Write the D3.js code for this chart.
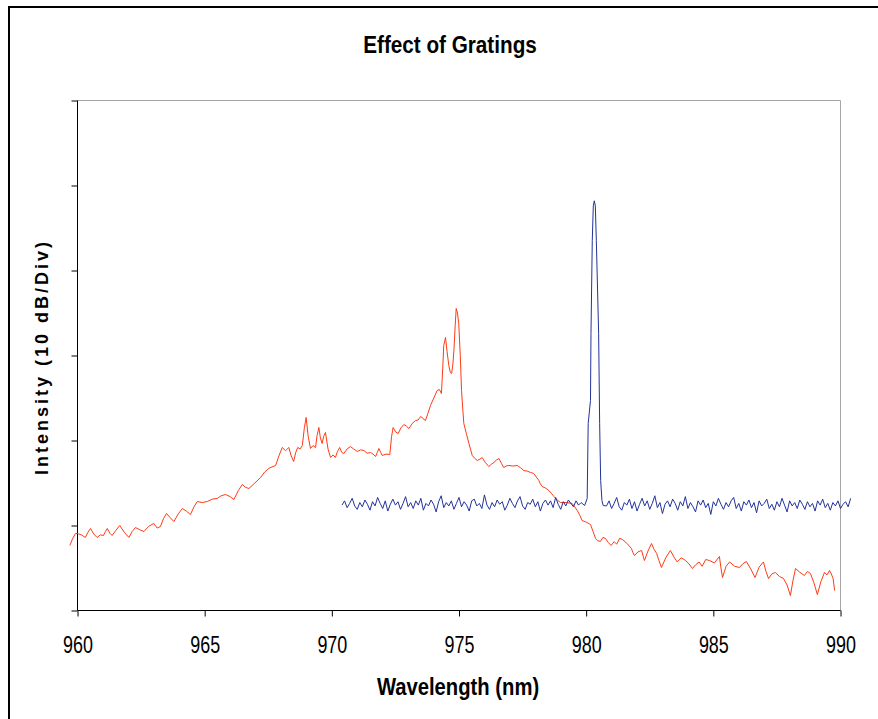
<!DOCTYPE html>
<html>
<head>
<meta charset="utf-8">
<script src="https://cdn.jsdelivr.net/npm/d3@7"></script>
<style>
  html, body { margin: 0; padding: 0; background: #fff; }
  svg { display: block; }
</style>
</head>
<body>
<svg id="chart" width="878" height="719"></svg>
<script>
// ---- data (wavelength in nm, intensity in relative dB; 10 dB per division) ----
const xTicks = [960, 965, 970, 975, 980, 985, 990];
const yTicks = [0, 10, 20, 30, 40, 50, 60];

// broadband emission without grating (red)
const redWl = [
  959.70, 959.80, 959.92, 959.99, 960.15, 960.31, 960.41, 960.51, 960.64, 960.77,
  960.90, 961.02, 961.10, 961.17, 961.27, 961.36, 961.50, 961.66, 961.84, 962.02,
  962.15, 962.28, 962.45, 962.61, 962.80, 963.00, 963.13, 963.26, 963.38, 963.50,
  963.65, 963.79, 963.95, 964.12, 964.28, 964.44, 964.58, 964.71, 964.90, 965.10,
  965.30, 965.49, 965.65, 965.82, 966.00, 966.15, 966.32, 966.48, 966.60, 966.74,
  966.97, 967.20, 967.36, 967.52, 967.65, 967.79, 967.92, 968.05, 968.18, 968.31,
  968.40, 968.50, 968.58, 968.66, 968.75, 968.84, 968.92, 968.99, 969.07, 969.16,
  969.26, 969.36, 969.42, 969.49, 969.55, 969.62, 969.68, 969.75, 969.85, 969.95,
  970.05, 970.14, 970.22, 970.31, 970.39, 970.47, 970.60, 970.73, 970.86, 971.00,
  971.13, 971.26, 971.39, 971.52, 971.62, 971.72, 971.79, 971.85, 971.92, 971.98,
  972.13, 972.28, 972.35, 972.41, 972.51, 972.61, 972.72, 972.83, 972.93, 973.03,
  973.16, 973.29, 973.39, 973.49, 973.58, 973.68, 973.78, 973.88, 974.01, 974.14,
  974.23, 974.31, 974.36, 974.40, 974.47, 974.53, 974.60, 974.66, 974.71, 974.76,
  974.80, 974.85, 974.89, 974.94, 974.99, 975.05, 975.10, 975.15, 975.19, 975.29,
  975.39, 975.46, 975.52, 975.62, 975.72, 975.82, 975.91, 976.04, 976.17, 976.27,
  976.37, 976.47, 976.57, 976.67, 976.76, 976.86, 976.96, 977.12, 977.29, 977.42,
  977.55, 977.68, 977.81, 977.94, 978.04, 978.14, 978.20, 978.27, 978.40, 978.53,
  978.63, 978.73, 978.86, 978.99, 979.22, 979.45, 979.55, 979.65, 979.75, 979.84,
  980.00, 980.17, 980.27, 980.37, 980.46, 980.56, 980.66, 980.76, 980.87, 980.98,
  981.10, 981.20, 981.32, 981.43, 981.60, 981.78, 981.84, 981.90, 982.04, 982.18,
  982.24, 982.29, 982.43, 982.57, 982.67, 982.77, 982.86, 982.96, 983.13, 983.31,
  983.45, 983.58, 983.74, 983.91, 984.04, 984.18, 984.31, 984.44, 984.56, 984.70,
  984.85, 985.04, 985.24, 985.30, 985.36, 985.50, 985.64, 985.84, 986.03, 986.16,
  986.30, 986.47, 986.64, 986.80, 986.97, 987.07, 987.17, 987.30, 987.44, 987.60,
  987.76, 987.90, 988.03, 988.13, 988.23, 988.40, 988.58, 988.70, 988.82, 988.95,
  989.09, 989.23, 989.37, 989.47, 989.57, 989.64, 989.71, 989.77];
const redDb = [
  7.65, 8.4, 9.06, 9.06, 8.9, 8.59, 9.2, 9.65, 9.0, 8.59,
  8.9, 8.82, 9.3, 9.65, 9.1, 8.82, 9.4, 10.0, 9.2, 8.59,
  9.3, 9.76, 9.5, 9.29, 9.9, 10.24, 9.7, 9.88, 10.8, 11.41,
  10.9, 10.47, 11.3, 12.0, 11.7, 11.29, 12.2, 12.82, 12.7, 12.82,
  13.1, 13.18, 13.5, 13.65, 13.4, 13.06, 14.1, 14.82, 14.5, 14.35,
  15.0, 15.65, 16.3, 16.71, 16.9, 17.06, 18.2, 19.18, 18.8, 19.18,
  18.2, 17.53, 18.6, 19.18, 19.0, 19.41, 21.5, 22.71, 20.5, 19.06,
  19.4, 19.18, 20.6, 21.53, 20.3, 19.65, 20.5, 20.94, 19.0, 18.0,
  18.3, 18.0, 18.7, 19.18, 18.6, 18.47, 19.0, 19.29, 19.0, 18.71,
  18.9, 18.82, 18.5, 18.59, 18.4, 18.12, 18.6, 19.06, 18.6, 18.24,
  18.4, 18.35, 20.5, 21.53, 21.0, 20.82, 21.5, 21.88, 21.7, 21.41,
  22.0, 22.35, 22.4, 22.82, 22.6, 22.35, 23.2, 24.12, 25.0, 25.88,
  26.0, 25.53, 28.5, 31.18, 32.12, 30.5, 28.82, 28.0, 27.88, 29.0,
  30.59, 33.5, 35.53, 35.0, 33.76, 30.0, 25.88, 23.6, 22.0, 20.8,
  19.65, 18.9, 18.24, 17.9, 17.65, 17.8, 18.0, 17.4, 16.94, 17.2,
  17.41, 17.7, 17.88, 17.3, 16.82, 17.0, 17.06, 17.0, 17.06, 16.8,
  16.47, 16.4, 16.24, 16.12, 15.7, 15.29, 14.9, 14.59, 14.4, 14.12,
  13.8, 13.41, 13.0, 12.71, 12.7, 12.59, 12.2, 11.76, 11.2, 10.59,
  10.4, 10.12, 9.3, 8.47, 8.2, 8.12, 8.6, 8.47, 8.0, 7.65,
  8.1, 7.8, 8.5, 8.35, 7.9, 7.29, 6.8, 6.47, 6.9, 7.06,
  6.4, 5.88, 7.0, 7.88, 7.2, 6.71, 5.9, 5.06, 6.2, 7.06,
  6.3, 5.71, 6.2, 5.88, 5.5, 4.94, 5.4, 5.71, 5.2, 6.0,
  5.88, 5.6, 6.35, 5.0, 3.88, 5.2, 5.71, 5.2, 5.06, 5.5,
  5.76, 4.9, 3.88, 5.1, 5.71, 4.6, 3.76, 4.3, 4.47, 4.0,
  3.76, 3.0, 1.76, 3.5, 4.94, 4.5, 4.12, 4.6, 4.35, 3.3,
  1.88, 3.4, 4.47, 4.2, 4.71, 4.3, 3.76, 2.35];

// emission with grating (blue)
const blueWl = [
  970.4, 970.5, 970.6, 970.7, 970.8, 970.9, 971.0, 971.1, 971.2, 971.3,
  971.4, 971.5, 971.6, 971.7, 971.8, 971.9, 972.0, 972.1, 972.2, 972.3,
  972.4, 972.5, 972.6, 972.7, 972.8, 972.9, 973.0, 973.1, 973.2, 973.3,
  973.4, 973.5, 973.6, 973.7, 973.8, 973.9, 974.0, 974.1, 974.2, 974.3,
  974.4, 974.5, 974.6, 974.7, 974.8, 974.9, 975.0, 975.1, 975.2, 975.3,
  975.4, 975.5, 975.6, 975.7, 975.8, 975.9, 976.0, 976.1, 976.2, 976.3,
  976.4, 976.5, 976.6, 976.7, 976.8, 976.9, 977.0, 977.1, 977.2, 977.3,
  977.4, 977.5, 977.6, 977.7, 977.8, 977.9, 978.0, 978.1, 978.2, 978.3,
  978.4, 978.5, 978.6, 978.7, 978.8, 978.9, 979.0, 979.1, 979.2, 979.3,
  979.4, 979.5, 979.6, 979.7, 979.8,
  979.94, 980.04, 980.08, 980.17, 980.19, 980.24, 980.28, 980.32, 980.36, 980.40,
  980.49, 980.53, 980.57, 980.62, 980.67,
  980.8, 980.9, 981.0, 981.1, 981.2, 981.3, 981.4, 981.5, 981.6, 981.7,
  981.8, 981.9, 982.0, 982.1, 982.2, 982.3, 982.4, 982.5, 982.6, 982.7,
  982.8, 982.9, 983.0, 983.1, 983.2, 983.3, 983.4, 983.5, 983.6, 983.7,
  983.8, 983.9, 984.0, 984.1, 984.2, 984.3, 984.4, 984.5, 984.6, 984.7,
  984.8, 984.9, 985.0, 985.1, 985.2, 985.3, 985.4, 985.5, 985.6, 985.7,
  985.8, 985.9, 986.0, 986.1, 986.2, 986.3, 986.4, 986.5, 986.6, 986.7,
  986.8, 986.9, 987.0, 987.1, 987.2, 987.3, 987.4, 987.5, 987.6, 987.7,
  987.8, 987.9, 988.0, 988.1, 988.2, 988.3, 988.4, 988.5, 988.6, 988.7,
  988.8, 988.9, 989.0, 989.1, 989.2, 989.3, 989.4, 989.5, 989.6, 989.7,
  989.8, 989.9, 990.0, 990.1, 990.2, 990.3, 990.4];
const blueDb = [
  12.4, 12.9, 12.1, 12.6, 13.2, 12.3, 11.9, 12.7, 12.2, 13.0,
  12.5, 11.8, 12.8, 12.3, 13.3, 12.6, 12.0, 12.9, 11.7, 12.5,
  13.1, 12.4, 12.8, 11.9, 12.6, 13.4, 12.2, 12.7, 12.0, 12.9,
  12.4, 13.2, 11.8, 12.6, 12.3, 13.0, 12.5, 11.6, 12.8, 13.5,
  12.1, 12.7, 12.3, 12.9, 11.9, 12.6, 13.3, 12.2, 12.8, 12.4,
  11.7, 12.9, 13.1, 12.3, 12.6, 12.0, 13.6, 12.4, 11.9, 12.7,
  12.2, 13.0, 12.5, 12.8, 11.8, 12.4, 13.2, 12.6, 12.1, 12.9,
  13.4, 12.3, 11.9, 12.7, 12.5, 13.1, 12.2, 12.8, 11.7, 12.6,
  13.0, 12.4, 12.9, 12.1, 13.3, 12.5, 11.9, 12.8, 12.3, 13.0,
  12.6, 12.2, 12.9, 12.4, 12.7,
  12.35, 13.18, 22.0, 24.7, 32.6, 43.5, 47.6, 48.2, 47.6, 43.5,
  32.6, 22.0, 15.3, 12.94, 12.35,
  12.3, 12.9, 12.0, 12.6, 13.3, 12.2, 11.8, 12.7, 12.4, 13.1,
  12.0, 12.8, 11.7, 12.5, 13.2, 12.3, 12.9, 11.9, 12.6, 13.5,
  12.1, 12.7, 11.4, 12.5, 12.9, 12.2, 13.1, 12.6, 11.8, 12.8,
  12.3, 13.4, 12.0, 12.7, 12.2, 11.6, 12.9, 12.4, 13.0, 12.1,
  12.6, 11.3, 12.8, 12.3, 13.2, 12.5, 11.9, 12.7, 12.2, 12.9,
  13.3, 12.0, 12.6, 11.7, 12.8, 12.4, 13.0, 12.1, 12.7, 11.5,
  12.9, 12.3, 12.6, 13.1, 12.0, 12.5, 11.8, 12.8, 12.2, 13.2,
  12.4, 11.6, 12.9, 12.3, 12.7, 12.0, 13.0, 12.5, 11.9, 12.8,
  12.2, 12.6, 11.7, 12.9, 12.4, 13.1, 12.1, 12.6, 11.8, 12.7,
  12.3, 12.9, 12.0, 12.5, 12.8, 12.2, 13.2];

// ---- drawing ----
const svg = d3.select("#chart");
const L = 77.5, R = 840.5, T = 100.5, B = 610.5;

const x = d3.scaleLinear().domain([960, 990]).range([L, R]);
const y = d3.scaleLinear().domain([0, 60]).range([B, T]);

const narrowFont = "'Liberation Sans', Arial, Helvetica, sans-serif";

// outer chart frame
svg.append("rect").attr("x", 9).attr("y", 7).attr("width", 900).attr("height", 740)
  .attr("fill", "none").attr("stroke", "#000").attr("stroke-width", 2);

// plot area top and right edges (grey)
svg.append("path")
  .attr("d", `M${L},${T}H${R}V${B}`)
  .attr("fill", "none").attr("stroke", "#a6a6a6").attr("stroke-width", 1);

// x axis
const xAxis = svg.append("g").attr("transform", `translate(0,${B})`)
  .call(d3.axisBottom(x).tickValues(xTicks).tickSize(6).tickFormat(d3.format("d")));
// y axis
const yAxis = svg.append("g").attr("transform", `translate(${L},0)`)
  .call(d3.axisLeft(y).tickValues(yTicks).tickSize(6).tickFormat(""));

[xAxis, yAxis].forEach(g => {
  g.select(".domain").attr("stroke", "#000").attr("stroke-width", 1);
  g.selectAll(".tick line").attr("stroke", "#000");
});
yAxis.select(".domain").attr("d", `M0,${T}V${B}`);
xAxis.select(".domain").attr("d", `M${L},0H${R}`);

// x tick labels: condensed look via horizontal scaling
xAxis.selectAll(".tick text")
  .attr("y", null).attr("dy", null)
  .attr("transform", "translate(0,42) scale(0.78,1)")
  .attr("fill", "#000")
  .style("font-family", narrowFont)
  .style("font-size", "23px");

const line = d3.line().x(d => x(d[0])).y(d => y(d[1]));

svg.append("path")
  .datum(redWl.map((w, i) => [w, redDb[i]]))
  .attr("d", line).attr("fill", "none")
  .attr("stroke", "#ff3a14").attr("stroke-width", 1).attr("stroke-linejoin", "round");

svg.append("path")
  .datum(blueWl.map((w, i) => [w, blueDb[i]]))
  .attr("d", line).attr("fill", "none")
  .attr("stroke", "#22339a").attr("stroke-width", 1).attr("stroke-linejoin", "round");

// titles
svg.append("text")
  .attr("transform", "translate(450,53) scale(0.9,1)")
  .attr("text-anchor", "middle")
  .style("font-family", narrowFont)
  .style("font-weight", "bold").style("font-size", "23px")
  .text("Effect of Gratings");

svg.append("text")
  .attr("transform", "translate(458,695) scale(0.88,1)")
  .attr("text-anchor", "middle")
  .style("font-family", narrowFont)
  .style("font-weight", "bold").style("font-size", "23px")
  .text("Wavelength (nm)");

svg.append("text")
  .attr("transform", "translate(48,357) rotate(-90)")
  .attr("text-anchor", "middle")
  .style("font-family", "'Liberation Sans', Arial, sans-serif")
  .style("font-weight", "bold").style("font-size", "18px")
  .style("letter-spacing", "3px")
  .text("Intensity (10 dB/Div)");
</script>
</body>
</html>
